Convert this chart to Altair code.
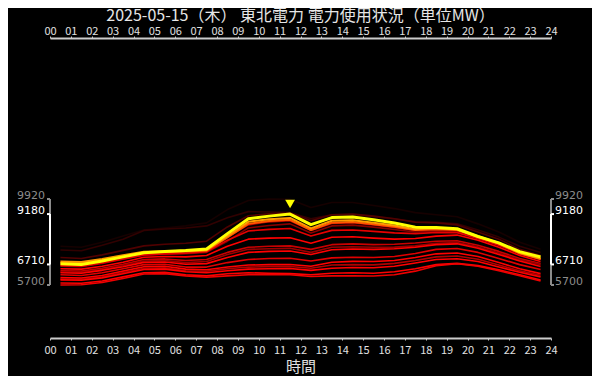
import altair as alt
import pandas as pd

TITLE = "2025-05-15（木） 東北電力 電力使用状況（単位MW）"
X_TITLE = "時間"
FONT = "Noto Sans CJK JP"
NUM_FONT = "DejaVu Sans"

hours = [0.5, 1.5, 2.5, 3.5, 4.5, 5.5, 6.5, 7.5, 8.5, 9.5, 10.5, 11.5,
         12.5, 13.5, 14.5, 15.5, 16.5, 17.5, 18.5, 19.5, 20.5, 21.5, 22.5, 23.5]
tick_hours = [0, 1, 2, 3, 4, 5, 6, 7, 8, 9, 10, 11, 12,
              13, 14, 15, 16, 17, 18, 19, 20, 21, 22, 23, 24]

# today (yellow)
today = [6740, 6710, 6880, 7080, 7280, 7340, 7390, 7470, 8220, 8950, 9080, 9180,
         8660, 9010, 9040, 8900, 8740, 8540, 8520, 8460, 8080, 7770, 7340, 7080]

# similar days (orange)
orange_1 = [6850, 6830, 6980, 7160, 7330, 7360, 7380, 7420, 8100, 8800, 8930, 8990,
            8480, 8850, 8880, 8760, 8620, 8440, 8480, 8420, 8100, 7760, 7280, 7000]
orange_2 = [6790, 6760, 6920, 7110, 7290, 7320, 7340, 7380, 8030, 8700, 8840, 8900,
            8400, 8760, 8790, 8680, 8560, 8400, 8440, 8400, 8060, 7720, 7260, 6980]

# faint past days
faint_0 = [7600, 7550, 7800, 8100, 8400, 8500, 8600, 8750, 9400, 9850, 9920, 9900,
           9500, 9750, 9750, 9600, 9450, 9250, 9150, 9050, 8700, 8300, 7800, 7450]
faint_1 = [7420, 7380, 7650, 7950, 8380, 8450, 8500, 8600, 9000, 9300, 9280, 9250,
           8950, 9150, 9150, 9050, 8950, 8800, 8780, 8700, 8400, 8050, 7600, 7300]
faint_2 = [7050, 7000, 7180, 7400, 7620, 7700, 7750, 7850, 8550, 9100, 9200, 9230,
           8850, 9150, 9180, 9080, 8950, 8780, 8750, 8650, 8300, 7950, 7450, 7150]

# red past days
red_0a = [6700, 6680, 6840, 7040, 7240, 7290, 7320, 7390, 8050, 8650, 8800, 8850,
          8380, 8720, 8760, 8650, 8520, 8380, 8420, 8380, 8060, 7720, 7260, 6990]
red_0b = [6620, 6600, 6760, 6960, 7160, 7210, 7240, 7300, 7850, 8500, 8620, 8700,
          8250, 8600, 8640, 8540, 8420, 8300, 8350, 8330, 8020, 7680, 7230, 6950]
red_1 = [6650, 6620, 6780, 6980, 7180, 7230, 7260, 7330, 7900, 8350, 8430, 8470,
         8100, 8380, 8400, 8330, 8260, 8220, 8280, 8270, 7980, 7650, 7240, 6960]
red_2 = [6500, 6480, 6620, 6820, 7060, 7100, 7080, 7150, 7600, 7950, 8000, 8020,
         7750, 8040, 8070, 8000, 7950, 7980, 8100, 8150, 7900, 7550, 7150, 6850]
red_3 = [6400, 6380, 6520, 6720, 6950, 6980, 6900, 6950, 7300, 7550, 7600, 7620,
         7450, 7680, 7720, 7680, 7700, 7760, 7850, 7870, 7650, 7350, 7000, 6760]
red_4 = [6300, 6280, 6420, 6600, 6810, 6830, 6720, 6750, 7050, 7300, 7350, 7370,
         7200, 7430, 7470, 7450, 7480, 7550, 7680, 7720, 7500, 7200, 6880, 6610]
red_4b = [6350, 6330, 6460, 6660, 6880, 6900, 6800, 6850, 7200, 7450, 7480, 7500,
          7300, 7550, 7580, 7550, 7560, 7620, 7750, 7780, 7570, 7270, 6940, 6700]
red_5 = [6200, 6170, 6300, 6500, 6700, 6720, 6580, 6580, 6800, 6950, 7000, 7010,
         6880, 7030, 7060, 7050, 7100, 7250, 7450, 7490, 7300, 7000, 6700, 6460]
red_6 = [6060, 6040, 6170, 6380, 6600, 6620, 6480, 6450, 6580, 6680, 6700, 6710,
         6620, 6820, 6860, 6850, 6900, 7050, 7230, 7270, 7100, 6800, 6500, 6260]
red_7 = [5950, 5930, 6050, 6250, 6460, 6480, 6350, 6300, 6400, 6480, 6500, 6510,
         6420, 6520, 6560, 6550, 6620, 6780, 6950, 6990, 6850, 6580, 6330, 6100]
red_7b = [6000, 5980, 6100, 6310, 6520, 6540, 6400, 6380, 6500, 6580, 6600, 6610,
          6520, 6680, 6700, 6690, 6760, 6900, 7080, 7120, 6960, 6680, 6400, 6180]
red_8 = [5800, 5790, 5900, 6100, 6300, 6320, 6200, 6150, 6250, 6300, 6280, 6260,
         6200, 6280, 6300, 6280, 6350, 6500, 6700, 6760, 6650, 6450, 6200, 5950]
red_9 = [5700, 5710, 5820, 6020, 6240, 6260, 6150, 6080, 6150, 6200, 6210, 6200,
         6120, 6150, 6150, 6140, 6200, 6380, 6650, 6740, 6620, 6400, 6150, 5900]

faint_series = [("f0", faint_0, "#160000"), ("f1", faint_1, "#300000"), ("f2", faint_2, "#500000")]
red_series = [("r0a", red_0a, "#b30000"), ("r0b", red_0b, "#8a0000"), ("r1", red_1, "#e60000"),
              ("r2", red_2, "#ff0000"), ("r3", red_3, "#c80000"), ("r4b", red_4b, "#990000"),
              ("r4", red_4, "#ff0000"), ("r5", red_5, "#e00000"), ("r6", red_6, "#ff0000"),
              ("r7b", red_7b, "#b00000"), ("r7", red_7, "#ff0000"), ("r8", red_8, "#ff0000"),
              ("r9", red_9, "#ee0000")]
orange_series = [("o2", orange_2, "#ff5500"), ("o1", orange_1, "#ff9900")]
today_series = [("today", today, "#ffff00")]


def frame(series):
    rows = []
    for name, vals, col in series:
        for h, v in zip(hours, vals):
            rows.append({"name": name, "hour": h, "mw": v, "color": col})
    return pd.DataFrame(rows)


# y-range brackets
all_max, all_min = 9920, 5700
day_max, day_min = max(today), min(today)
GRAY = "#8c8c8c"
WHITE = "#ffffff"

x_scale = alt.Scale(domain=[0, 24], nice=False, zero=False)
y_scale = alt.Scale(domain=[3100, 17820], nice=False, zero=False)

common_axis = dict(
    values=tick_hours,
    labelExpr="datum.value < 10 ? '0' + datum.value : '' + datum.value",
    tickSize=2, tickColor="#cccccc", tickWidth=1,
    domainColor="#cccccc", domainWidth=2,
    labelColor="#e0e0e0", labelFont=FONT, labelFontSize=11,
    labelFlush=False, labelOverlap=False, grid=False,
)
axis_bottom = alt.Axis(orient="bottom", labelPadding=4, title=X_TITLE,
                       titleColor="#e0e0e0", titleFont=FONT, titleFontSize=15,
                       titleFontWeight="normal", titlePadding=4, **common_axis)
axis_top = alt.Axis(orient="top", labelPadding=0, title=None, **common_axis)


def lines(series, width, axis):
    return alt.Chart(frame(series)).mark_line(strokeWidth=width, strokeJoin="round").encode(
        x=alt.X("hour:Q", scale=x_scale, axis=axis),
        y=alt.Y("mw:Q", scale=y_scale, axis=None),
        detail="name:N",
        color=alt.Color("color:N", scale=None),
    )


faint_layer = lines(faint_series, 1.6, None)
red_layer = lines(red_series, 1.6, axis_bottom)
orange_layer = lines(orange_series, 2, None)
today_layer = lines(today_series, 3, axis_top)

peak_idx = today.index(day_max)
marker = alt.Chart(pd.DataFrame({"hour": [hours[peak_idx]], "mw": [day_max]})).mark_point(
    shape="triangle-down", filled=True, size=95, color="#ffff00", opacity=1, yOffset=-10
).encode(
    x=alt.X("hour:Q", scale=x_scale, axis=None),
    y=alt.Y("mw:Q", scale=y_scale, axis=None),
)

sides = [0, 24]
br_rows = []
tick_rows = []
lab_rows = []
for s in sides:
    br_rows.append({"x": s, "top": all_max, "bottom": all_min, "color": GRAY})
    br_rows.append({"x": s, "top": day_max, "bottom": day_min, "color": WHITE})
    for v, c in [(all_max, GRAY), (all_min, GRAY), (day_max, WHITE), (day_min, WHITE)]:
        tick_rows.append({"x": s, "y": v, "color": c})
        lab_rows.append({"x": s, "y": v, "color": c, "text": str(v)})
br_df = pd.DataFrame(br_rows)
tick_df = pd.DataFrame(tick_rows)
lab_df = pd.DataFrame(lab_rows)

vert = alt.Chart(br_df).mark_rule(strokeWidth=2).encode(
    x=alt.X("x:Q", scale=x_scale, axis=None),
    y=alt.Y("top:Q", scale=y_scale, axis=None),
    y2="bottom:Q",
    color=alt.Color("color:N", scale=None),
)

def ticks(side, off):
    return alt.Chart(tick_df[tick_df.x == side]).mark_rule(
        strokeWidth=2, xOffset=off, x2Offset=0
    ).encode(
        x=alt.X("x:Q", scale=x_scale, axis=None),
        x2="x:Q",
        y=alt.Y("y:Q", scale=y_scale, axis=None),
        color=alt.Color("color:N", scale=None),
    )

def labels(side, align, dx):
    return alt.Chart(lab_df[lab_df.x == side]).mark_text(
        align=align, baseline="middle", dx=dx, dy=-3.5, font=NUM_FONT, fontSize=11
    ).encode(
        x=alt.X("x:Q", scale=x_scale, axis=None),
        y=alt.Y("y:Q", scale=y_scale, axis=None),
        text="text:N",
        color=alt.Color("color:N", scale=None),
    )

chart = alt.layer(
    faint_layer, red_layer, orange_layer, today_layer, marker,
    vert, ticks(0, -3), ticks(24, 3), labels(0, "right", -5), labels(24, "left", 4),
).resolve_axis(x="independent").properties(
    width=501, height=300,
    title=alt.TitleParams(TITLE, color="#e6e6e6", font=FONT, fontSize=16,
                          fontWeight="normal", anchor="middle", offset=1),
    autosize=alt.AutoSizeParams(type="none"),
    padding={"left": 42, "top": 30, "right": 41, "bottom": 38},
    background="black",
).configure_view(stroke="transparent")

chart.save("out.html", embed_options={"renderer": "svg", "actions": False})
